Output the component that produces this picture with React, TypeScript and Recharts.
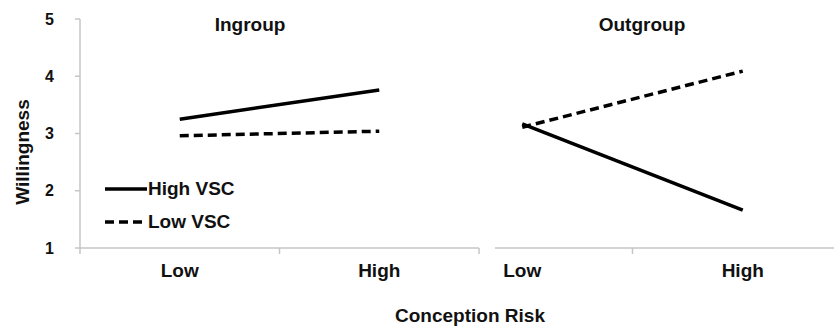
import { LineChart, Line, XAxis, YAxis, Legend } from "recharts"

// categories and panels
const riskLevels = ["Low", "High"]
const panelTitles = ["Ingroup", "Outgroup"]

// willingness
const ingroupHighVsc = [3.25, 3.76]
const ingroupLowVsc = [2.96, 3.04]
const outgroupHighVsc = [3.17, 1.66]
const outgroupLowVsc = [3.11, 4.09]

const yTicks = [1, 2, 3, 4, 5]

const seriesNames = ["High VSC", "Low VSC"]

const FONT = "'Liberation Sans', Arial, sans-serif"
const TEXT = "#111"
const AXIS = "#c6c6c6"
const DASH = "9 5"

const buildRows = (high: number[], low: number[]) =>
  riskLevels.map((risk, i) => ({ risk, high: high[i], low: low[i] }))

const ingroupData = buildRows(ingroupHighVsc, ingroupLowVsc)
const outgroupData = buildRows(outgroupHighVsc, outgroupLowVsc)

const TICK_SIZE = 6
const TICK_MARGIN = 10
const X_AXIS_HEIGHT = 30
const MARGIN_BOTTOM = 82 - X_AXIS_HEIGHT

// category label plus Excel style tick marks at the band edges
const CategoryTick = (props: any) => {
  const { x, y, payload, index, visibleTicksCount } = props
  const half = payload?.offset ?? 0
  const axisY = y - TICK_SIZE - TICK_MARGIN
  const last = index === (visibleTicksCount ?? riskLevels.length) - 1
  return (
    <g>
      <line x1={x - half} x2={x - half} y1={axisY} y2={axisY + TICK_SIZE} stroke={AXIS} strokeWidth={1.5} />
      {last && (
        <line x1={x + half} x2={x + half} y1={axisY} y2={axisY + TICK_SIZE} stroke={AXIS} strokeWidth={1.5} />
      )}
      <text x={x} y={y} dy="0.71em" textAnchor="middle" fill={TEXT} fontSize={19} fontWeight={700} fontFamily={FONT}>
        {payload.value}
      </text>
    </g>
  )
}

const LegendContent = (props: any) => {
  const items = props.payload ?? []
  return (
    <div style={{ fontFamily: FONT }}>
      {items.map((item: any, i: number) => (
        <div key={item.value} style={{ display: "flex", alignItems: "center", height: 33 }}>
          <svg width={43} height={10} style={{ display: "block" }}>
            <line
              x1={0}
              x2={42}
              y1={5}
              y2={5}
              stroke="#000"
              strokeWidth={3.5}
              strokeDasharray={seriesNames[i] === "Low VSC" ? DASH : undefined}
            />
          </svg>
          <span style={{ fontSize: 19, fontWeight: 700, color: TEXT, lineHeight: "19px" }}>{item.value}</span>
        </div>
      ))}
    </div>
  )
}

const lineProps = {
  type: "linear" as const,
  stroke: "#000",
  strokeWidth: 3.5,
  dot: false,
  activeDot: false,
  isAnimationActive: false,
}

export default function App() {
  return (
    <div style={{ position: "absolute", left: 0, top: 0, width: 834, height: 330, overflow: "hidden", background: "#fff" }}>
      {/* Outgroup panel, its left part sits under the ingroup panel */}
      <div style={{ position: "absolute", left: 400, top: 0 }}>
        <LineChart width={460} height={330} data={outgroupData} margin={{ top: 19, right: 7, left: 12, bottom: MARGIN_BOTTOM }}>
          <XAxis
            dataKey="risk"
            scale="band"
            height={X_AXIS_HEIGHT}
            stroke={AXIS}
            strokeWidth={1.5}
            tickLine={false}
            tickSize={TICK_SIZE}
            tickMargin={TICK_MARGIN}
            tick={<CategoryTick />}
            interval={0}
          />
          <YAxis hide domain={[1, 5]} ticks={yTicks} />
          <Line {...lineProps} dataKey="high" name={seriesNames[0]} />
          <Line {...lineProps} dataKey="low" name={seriesNames[1]} strokeDasharray={DASH} />
        </LineChart>
      </div>

      {/* Ingroup panel */}
      <div style={{ position: "absolute", left: 0, top: 0, width: 495, height: 330, background: "#fff", zIndex: 1 }}>
        <LineChart width={495} height={330} data={ingroupData} margin={{ top: 19, right: 16, left: 0, bottom: MARGIN_BOTTOM }}>
          <XAxis
            dataKey="risk"
            scale="band"
            height={X_AXIS_HEIGHT}
            stroke={AXIS}
            strokeWidth={1.5}
            tickLine={false}
            tickSize={TICK_SIZE}
            tickMargin={TICK_MARGIN}
            tick={<CategoryTick />}
            interval={0}
          />
          <YAxis
            width={80}
            domain={[1, 5]}
            ticks={yTicks}
            interval={0}
            stroke={AXIS}
            strokeWidth={1.5}
            tickSize={5}
            tickMargin={21}
            tick={{ fill: TEXT, fontSize: 16, fontWeight: 700, fontFamily: FONT }}
          />
          <Legend
            layout="vertical"
            align="center"
            verticalAlign="middle"
            content={<LegendContent />}
            wrapperStyle={{ position: "absolute", left: 105, top: 172, width: 160 }}
          />
          <Line {...lineProps} dataKey="high" name={seriesNames[0]} />
          <Line {...lineProps} dataKey="low" name={seriesNames[1]} strokeDasharray={DASH} />
        </LineChart>
      </div>

      {/* titles */}
      <svg
        width={834}
        height={330}
        style={{ position: "absolute", left: 0, top: 0, zIndex: 2, pointerEvents: "none" }}
        fontFamily={FONT}
        fontWeight={700}
        fill={TEXT}
      >
        <text x={250} y={31} fontSize={19} textAnchor="middle">{panelTitles[0]}</text>
        <text x={642} y={31} fontSize={19} textAnchor="middle">{panelTitles[1]}</text>
        <text x={470} y={322} fontSize={19} textAnchor="middle">Conception Risk</text>
        <text x={29} y={152} fontSize={19} textAnchor="middle" transform="rotate(-90 29 152)">Willingness</text>
      </svg>
    </div>
  )
}
